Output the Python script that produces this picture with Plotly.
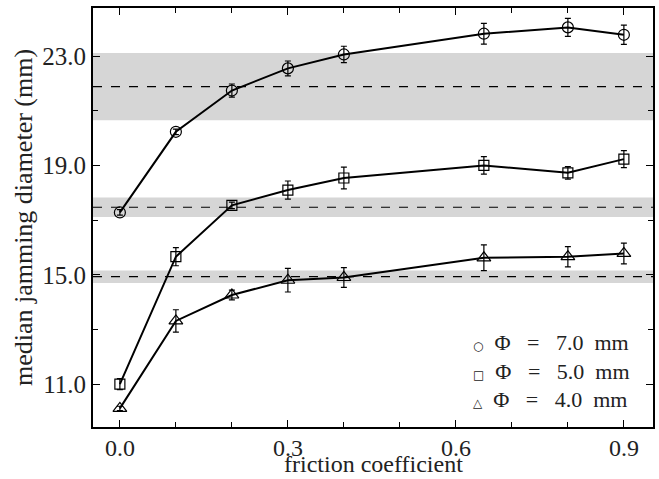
import plotly.graph_objects as go

# friction coefficients at which each particle size was measured
friction = [0.0, 0.1, 0.2, 0.3, 0.4, 0.65, 0.8, 0.9]

# median jamming diameters (mm) and their uncertainties
d_phi7 = [17.28, 20.23, 21.74, 22.55, 23.06, 23.82, 24.05, 23.78]
e_phi7 = [0.10, 0.10, 0.24, 0.27, 0.30, 0.38, 0.33, 0.35]
d_phi5 = [11.00, 15.66, 17.54, 18.10, 18.54, 19.00, 18.73, 19.23]
e_phi5 = [0.20, 0.33, 0.12, 0.33, 0.40, 0.32, 0.23, 0.31]
d_phi4 = [10.11, 13.31, 14.26, 14.80, 14.90, 15.62, 15.66, 15.78]
e_phi4 = [0.08, 0.41, 0.18, 0.43, 0.36, 0.47, 0.37, 0.38]

# reference (frictionless-model) means and spreads for each size
ref_mean = [21.88, 17.47, 14.93]
ref_half = [1.23, 0.36, 0.23]

labels = ["Φ   =   7.0  mm", "Φ   =   5.0  mm", "Φ   =   4.0  mm"]
key_glyphs = ["○", "□", "△"]
symbols = ["circle-open", "square-open", "triangle-up-open"]
sizes = [11, 10, 12]

font = "Liberation Serif, DejaVu Serif, serif"

fig = go.Figure()

for y, e, sym, sz in zip([d_phi7, d_phi5, d_phi4], [e_phi7, e_phi5, e_phi4], symbols, sizes):
    fig.add_trace(go.Scatter(
        x=friction, y=y, mode="lines+markers",
        line=dict(color="black", width=2),
        marker=dict(symbol=sym, size=sz, color="black",
                    line=dict(color="black", width=1.2)),
        error_y=dict(type="data", array=e, color="black", thickness=1.2, width=3),
        showlegend=False,
    ))

for m, h in zip(ref_mean, ref_half):
    fig.add_shape(type="rect", xref="paper", x0=0, x1=1, y0=m - h, y1=m + h,
                  fillcolor="#d6d6d6", line=dict(width=0), layer="below")
    fig.add_shape(type="line", xref="paper", x0=0, x1=1, y0=m, y1=m,
                  line=dict(color="black", width=1.2, dash="dash"), layer="below")

# compact key in the lower right corner, one text block
key_text = "<br>".join(
    f"<span style='font-family:DejaVu Sans;font-size:12px'>{g}</span>  {lab}"
    for g, lab in zip(key_glyphs, labels)
)
fig.add_annotation(xref="paper", yref="paper", x=0.962, y=0.134,
                   xanchor="right", yanchor="middle", showarrow=False, align="left",
                   text=key_text, font=dict(size=22, family=font, color="#222"))

# x-axis title placed below the tick labels
fig.add_annotation(xref="paper", yref="paper", x=0.5, y=-0.088,
                   xanchor="center", yanchor="middle", showarrow=False,
                   text="friction coefficient", font=dict(size=24, family=font, color="#222"))

fig.update_layout(
    width=659, height=479,
    margin=dict(l=93, r=6, t=8, b=52),
    paper_bgcolor="white", plot_bgcolor="white",
    font=dict(family=font, size=24, color="#222"),
    showlegend=False,
)

fig.update_xaxes(
    range=[-0.048, 0.952], tick0=0, dtick=0.3, tickformat=".1f",
    ticks="inside", ticklen=7, tickcolor="black", mirror="ticks",
    showline=True, linecolor="black", linewidth=2, showgrid=False, zeroline=False,
    minor=dict(dtick=0.1, tick0=0, ticks="inside", ticklen=5, tickcolor="black"),
    tickfont=dict(size=24), ticklabelstandoff=-2, automargin=False,
)
fig.update_yaxes(
    range=[9.43, 24.76], tick0=11, dtick=4, tickformat=".1f",
    ticks="inside", ticklen=7, tickcolor="black", mirror="ticks",
    showline=True, linecolor="black", linewidth=2, showgrid=False, zeroline=False,
    minor=dict(dtick=2, tick0=11, ticks="inside", ticklen=5, tickcolor="black"),
    tickfont=dict(size=25), automargin=False,
    title=dict(text="median jamming diameter (mm)", font=dict(size=26), standoff=2),
)

fig.write_html("out.html")
